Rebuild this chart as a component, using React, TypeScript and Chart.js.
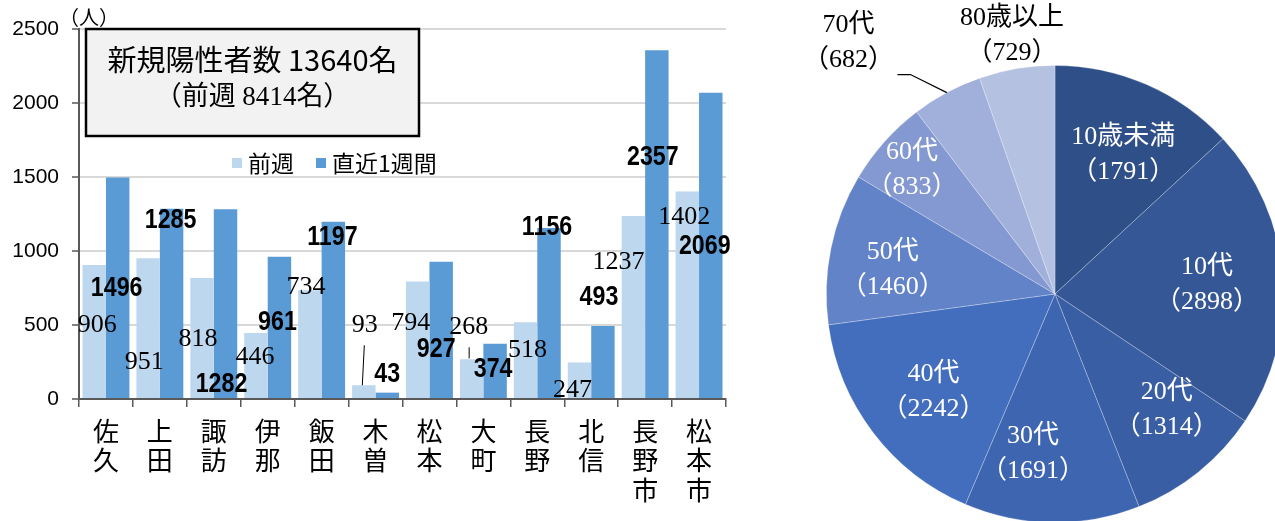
import React, { useEffect, useRef } from "react";
import { Chart, registerables } from "chart.js";

Chart.register(...registerables);

// ---------- data ----------
const regions: string[][] = [
  ["佐", "久"], ["上", "田"], ["諏", "訪"], ["伊", "那"], ["飯", "田"], ["木", "曽"],
  ["松", "本"], ["大", "町"], ["長", "野"], ["北", "信"], ["長", "野", "市"], ["松", "本", "市"],
];
const prevWeek = [906, 951, 818, 446, 734, 93, 794, 268, 518, 247, 1237, 1402];
const lastWeek = [1496, 1285, 1282, 961, 1197, 43, 927, 374, 1156, 493, 2357, 2069];
const yTicks = [0, 500, 1000, 1500, 2000, 2500];
const seriesNames = ["前週", "直近1週間"];
const titleMain = "新規陽性者数 13640名";
const titleSub = "（前週 8414名）";
const unitLabel = "（人）";

const ageGroups = ["10歳未満", "10代", "20代", "30代", "40代", "50代", "60代", "70代", "80歳以上"];
const ageCounts = [1791, 2898, 1314, 1691, 2242, 1460, 833, 682, 729];

// ---------- styles / label placement ----------
const lightBlue = "#BDD7EE";
const midBlue = "#5B9BD5";
const pieColors = ["#2F4F89", "#355796", "#3A5EA4", "#3D65B0", "#426EBD", "#6283C8", "#8499D1", "#A0B0DA", "#B5C1E1"];
// label offsets relative to each bar's top-centre (px)
const prevLabelOffsets = [[3, 60], [-4, 104], [-4, 61], [-1, 24], [-4, -3], [1, -60], [-7, 42], [-3, -32], [2, 28], [-7, 28], [-15, 46], [-3, 26]];
const lastLabelOffsets = [[-1, 111], [-1, 12], [-4, 175], [-2, 66], [-1, 16], [0, -18], [-5, 88], [-2, 26], [-2, 0], [-4, -28], [-4, 107], [-6, 154]];
const prevLeaders = [
  { index: 5, from: [0.5, -40], to: [-1.5, 0] },
  { index: 7, from: [-2.5, -12], to: [-2.5, -1] },
];
// pie label offsets relative to point at 0.68 r on mid angle
const pieLabelOffsets = [[6, 3], [-3, 3], [14, -5], [-20, 4], [2, 3], [-10, 7], [-27, -21], [-133, -114], [-17, -105]];
const pieLabelInside = [true, true, true, true, true, true, true, false, false];

const CJK = '"Noto Sans CJK JP", sans-serif';
const SERIF = '"Liberation Serif", "Noto Sans CJK JP", serif';

const barPlugin = {
  id: "barDecor",
  afterDatasetsDraw(chart: any) {
    const ctx = chart.ctx;
    const m0 = chart.getDatasetMeta(0);
    const m1 = chart.getDatasetMeta(1);
    ctx.save();
    ctx.strokeStyle = "#000";
    ctx.lineWidth = 1;
    prevLeaders.forEach((l) => {
      const b = m0.data[l.index];
      ctx.beginPath();
      ctx.moveTo(b.x + l.from[0], b.y + l.from[1]);
      ctx.lineTo(b.x + l.to[0], b.y + l.to[1]);
      ctx.stroke();
    });
    ctx.textAlign = "center";
    ctx.textBaseline = "middle";
    ctx.fillStyle = "#000";
    m0.data.forEach((b: any, i: number) => {
      const [dx, dy] = prevLabelOffsets[i];
      ctx.font = "26px " + SERIF;
      ctx.fillText(String(prevWeek[i]), b.x + dx, b.y + dy);
    });
    m1.data.forEach((b: any, i: number) => {
      const [dx, dy] = lastLabelOffsets[i];
      ctx.save();
      ctx.translate(b.x + dx, b.y + dy);
      ctx.scale(0.86, 1);
      ctx.font = 'bold 27px "Liberation Sans", sans-serif';
      ctx.fillText(String(lastWeek[i]), 0, 0);
      ctx.restore();
    });
    ctx.restore();
  },
  afterDraw(chart: any) {
    const ctx = chart.ctx;
    const ca = chart.chartArea;
    ctx.save();
    // unit label
    ctx.fillStyle = "#000";
    ctx.textAlign = "center";
    ctx.textBaseline = "middle";
    ctx.font = "20px " + CJK;
    ctx.fillText(unitLabel, ca.left + 10, ca.top - 12);
    // title box
    const bx = ca.left + 7, by = ca.top, bw = 333, bh = 107;
    ctx.fillStyle = "#F2F2F2";
    ctx.fillRect(bx, by, bw, bh);
    ctx.strokeStyle = "#000";
    ctx.lineWidth = 2.5;
    ctx.strokeRect(bx, by, bw, bh);
    ctx.fillStyle = "#000";
    ctx.font = "29px " + CJK;
    ctx.fillText(titleMain, bx + bw / 2, by + 31);
    ctx.font = "27px " + SERIF;
    ctx.fillText(titleSub, bx + bw / 2, by + 69);
    // legend
    const ds = chart.data.datasets;
    let lx = 232;
    const ly = 163;
    ctx.textAlign = "left";
    ctx.font = "23px " + CJK;
    ds.forEach((d: any, i: number) => {
      ctx.fillStyle = d.backgroundColor;
      ctx.fillRect(lx, ly - 5, 10, 10);
      ctx.fillStyle = "#000";
      ctx.fillText(seriesNames[i], lx + 16, ly);
      lx += 16 + ctx.measureText(seriesNames[i]).width + 22;
    });
    ctx.restore();
  },
};

const piePlugin = {
  id: "pieDecor",
  afterDatasetsDraw(chart: any) {
    const ctx = chart.ctx;
    const meta = chart.getDatasetMeta(0);
    ctx.save();
    ctx.textAlign = "center";
    ctx.textBaseline = "middle";
    ctx.font = "26px " + SERIF;
    meta.data.forEach((arc: any, i: number) => {
      const p = arc.getProps(["x", "y", "startAngle", "endAngle", "outerRadius"], true);
      const mid = (p.startAngle + p.endAngle) / 2;
      const cx = p.x + Math.cos(mid) * p.outerRadius * 0.68 + pieLabelOffsets[i][0];
      const cy = p.y + Math.sin(mid) * p.outerRadius * 0.68 + pieLabelOffsets[i][1];
      ctx.fillStyle = pieLabelInside[i] ? "#FFFFFF" : "#000000";
      ctx.fillText(ageGroups[i], cx, cy - 17.5);
      ctx.fillText("（" + ageCounts[i] + "）", cx, cy + 17.5);
      if (i === 7) {
        ctx.strokeStyle = "#000";
        ctx.lineWidth = 1.2;
        ctx.beginPath();
        ctx.moveTo(cx + 49, cy + 31.5);
        ctx.lineTo(cx + 62, cy + 31.5);
        ctx.lineTo(p.x + Math.cos(mid) * p.outerRadius, p.y + Math.sin(mid) * p.outerRadius);
        ctx.stroke();
      }
    });
    ctx.restore();
  },
};

export default function App() {
  const barRef = useRef<HTMLCanvasElement>(null);
  const pieRef = useRef<HTMLCanvasElement>(null);

  useEffect(() => {
    const bar = new Chart(barRef.current!, {
      type: "bar",
      data: {
        labels: regions,
        datasets: [
          { label: seriesNames[0], data: prevWeek, backgroundColor: lightBlue, categoryPercentage: 0.87, barPercentage: 1.0 },
          { label: seriesNames[1], data: lastWeek, backgroundColor: midBlue, categoryPercentage: 0.87, barPercentage: 1.0 },
        ],
      },
      options: {
        responsive: false,
        animation: false,
        layout: { padding: { left: 0, top: 29, right: 34, bottom: 0 } },
        plugins: { legend: { display: false }, tooltip: { enabled: false } },
        scales: {
          x: {
            afterFit: (s: any) => { s.height = 122; },
            grid: { drawOnChartArea: false, tickLength: 8, color: "#595959", lineWidth: 1.5, offset: true },
            border: { color: "#595959", width: 2 },
            ticks: {
              autoSkip: false, maxRotation: 0, minRotation: 0, padding: 9, color: "#000",
              font: { family: CJK, size: 26, lineHeight: 29.5 / 26 },
            },
          },
          y: {
            min: 0,
            max: 2500,
            afterBuildTicks: (s: any) => { s.ticks = yTicks.map((v) => ({ value: v })); },
            afterFit: (s: any) => { s.width = 79; },
            grid: { color: "#D9D9D9", lineWidth: 2, tickLength: 7, tickColor: "#595959", tickWidth: 1.5 },
            border: { color: "#595959", width: 2 },
            ticks: {
              padding: 13, color: "#000",
              font: { family: '"Liberation Sans", sans-serif', size: 21 },
              callback: (v: any) => String(v),
            },
          },
        },
      },
      plugins: [barPlugin],
    } as any);

    const pie = new Chart(pieRef.current!, {
      type: "pie",
      data: {
        labels: ageGroups,
        datasets: [{ data: ageCounts, backgroundColor: pieColors, borderColor: "rgba(255,255,255,0.35)", borderWidth: 0.75 }],
      },
      options: {
        responsive: false,
        animation: false,
        rotation: 0,
        layout: { padding: { left: 66, top: 65, right: 76, bottom: 37 } },
        plugins: { legend: { display: false }, tooltip: { enabled: false } },
      },
      plugins: [piePlugin],
    } as any);

    return () => {
      bar.destroy();
      pie.destroy();
    };
  }, []);

  return (
    <div style={{ position: "fixed", left: 0, top: 0, width: 1275, height: 521, overflow: "hidden", background: "#fff" }}>
      <canvas ref={barRef} width={760} height={521} style={{ position: "absolute", left: 0, top: 0, width: 760, height: 521 }} />
      <canvas ref={pieRef} width={600} height={560} style={{ position: "absolute", left: 760, top: 0, width: 600, height: 560 }} />
    </div>
  );
}
